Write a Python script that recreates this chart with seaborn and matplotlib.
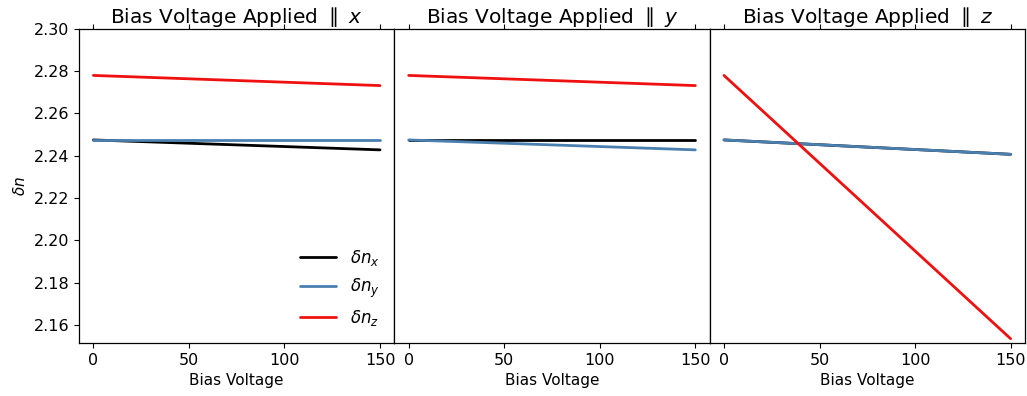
import numpy as np
import pandas as pd
import matplotlib
matplotlib.use("Agg")
import matplotlib.pyplot as plt
import seaborn as sns

voltage = [0, 150]
panels = ["x", "y", "z"]
# delta n values at V=0 and V=150 for each panel
nx_vals = {"x": [2.2475, 2.2428], "y": [2.2475, 2.2475], "z": [2.2475, 2.2407]}
ny_vals = {"x": [2.2475, 2.2475], "y": [2.2475, 2.2428], "z": [2.2475, 2.2407]}
nz_vals = {"x": [2.2780, 2.2732], "y": [2.2780, 2.2732], "z": [2.2780, 2.1535]}
series_labels = [r"$\delta n_x$", r"$\delta n_y$", r"$\delta n_z$"]
colors = ["black", "#4a80b0", "#f01010"]

rows = []
for p in panels:
    for lab, vals in zip(series_labels, [nx_vals, ny_vals, nz_vals]):
        for v, n in zip(voltage, vals[p]):
            rows.append({"panel": p, "series": lab, "V": v, "n": n})
df = pd.DataFrame(rows)

sns.set_style("ticks")
plt.rcParams["font.family"] = ["DejaVu Sans"]
plt.rcParams["text.color"] = "black"
plt.rcParams["axes.labelcolor"] = "black"
plt.rcParams["xtick.color"] = "black"
plt.rcParams["ytick.color"] = "black"
plt.rcParams["axes.edgecolor"] = "black"

fig, axes = plt.subplots(1, 3, figsize=(10.27, 3.96), dpi=100, sharey=True)
fig.subplots_adjust(left=0.077, right=0.998, top=0.927, bottom=0.134, wspace=0)

for i, (ax, p) in enumerate(zip(axes, panels)):
    sub = df[df.panel == p]
    sns.lineplot(data=sub, x="V", y="n", hue="series", hue_order=series_labels,
                 palette=colors, linewidth=2, ax=ax, legend=(i == 0))
    ax.set_title(f"Bias Voltage Applied $\\parallel$ ${p}$", fontsize=14.5, pad=4)
    ax.set_xlabel("Bias Voltage", fontsize=11)
    ax.set_xticks([0, 50, 100, 150])
    ax.tick_params(axis="x", top=True, labelsize=11.5)
    ax.tick_params(axis="y", labelsize=11.5)
    for s in ax.spines.values():
        s.set_visible(True)
        s.set_linewidth(0.9)
    if i > 0:
        ax.tick_params(axis="y", left=False)
        ax.set_ylabel("")
    else:
        ax.set_ylabel(r"$\delta n$", fontsize=11)

axes[0].set_ylim(2.1515, 2.30)
axes[0].set_yticks(np.arange(2.16, 2.301, 0.02))
leg = axes[0].legend(loc="lower right", frameon=False, fontsize=12, handlelength=2.2)

fig.savefig("out.png", dpi=100)
